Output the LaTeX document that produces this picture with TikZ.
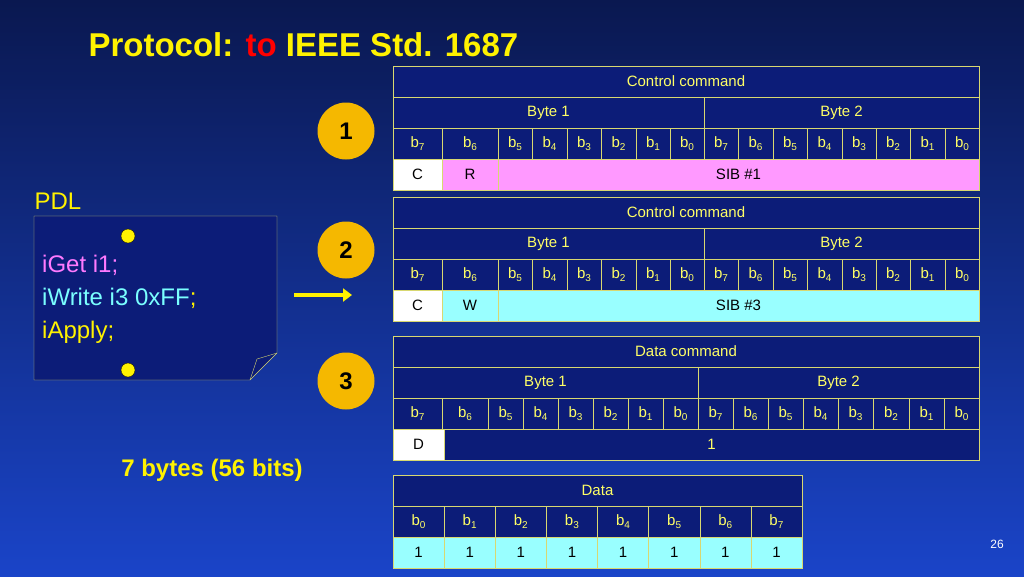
\documentclass[tikz,border=0pt]{standalone}
\usepackage{fontspec}
\setmainfont{Liberation Sans}
\usetikzlibrary{positioning,arrows.meta}
\definecolor{navy}{HTML}{0C1C78}
\definecolor{bgtop}{HTML}{0A1850}
\definecolor{bgbot}{HTML}{1A44C8}
\definecolor{gridline}{HTML}{D8D870}
\definecolor{txt}{HTML}{FFFF66}
\definecolor{pinkcell}{HTML}{FF99FF}
\definecolor{cyancell}{HTML}{99FFFF}
\definecolor{badge}{HTML}{F5B800}
\newcommand{\bit}[1]{b\raisebox{-0.35ex}{\fontsize{10}{10}\selectfont #1}}
% cell: x1, y1, x2, y2, fill, text colour, text
\newcommand{\cell}[7]{\draw[gridline,fill=#5] (#1,#2) rectangle (#3,#4);
  \node[text=#6,font=\fontsize{15}{15}\selectfont] at ({(#1+#3)/2},{(#2+#4)/2}) {#7};}
\begin{document}
\begin{tikzpicture}[x=1pt,y=-1pt,
  badgenode/.style={circle,fill=badge,minimum size=57pt,inner sep=0pt,font=\bfseries\fontsize{24}{24}\selectfont},
  dot/.style={circle,fill=yellow,draw=black,line width=0.3pt,minimum size=14pt,inner sep=0pt}]
\shade[top color=bgtop,bottom color=bgbot] (0,0) rectangle (1024,576);
\useasboundingbox (0,0) rectangle (1024,576);

\node[anchor=west,text=yellow,font=\bfseries\fontsize{33}{33}\selectfont] (title) at (85,45) {Protocol: \textcolor{red}{to} IEEE Std. 1687};

% table 1
\cell{393}{66}{979}{97}{navy}{txt}{Control command}
\cell{393}{97}{704}{128}{navy}{txt}{Byte 1}
\cell{704}{97}{979}{128}{navy}{txt}{Byte 2}
\foreach \xa/\xb/\k in {393/442/7,442/498/6,498/532/5,532/567/4,567/601/3,601/636/2,636/670/1,670/704/0,704/738/7,738/773/6,773/807/5,807/842/4,842/876/3,876/910/2,910/945/1,945/979/0}
  {\cell{\xa}{128}{\xb}{159}{navy}{txt}{\bit{\k}}}
\cell{393}{159}{442}{190}{white}{black}{C}
\cell{442}{159}{498}{190}{pinkcell}{black}{R}
\cell{498}{159}{979}{190}{pinkcell}{black}{SIB \#1}

% table 2
\cell{393}{197}{979}{228}{navy}{txt}{Control command}
\cell{393}{228}{704}{259}{navy}{txt}{Byte 1}
\cell{704}{228}{979}{259}{navy}{txt}{Byte 2}
\foreach \xa/\xb/\k in {393/442/7,442/498/6,498/532/5,532/567/4,567/601/3,601/636/2,636/670/1,670/704/0,704/738/7,738/773/6,773/807/5,807/842/4,842/876/3,876/910/2,910/945/1,945/979/0}
  {\cell{\xa}{259}{\xb}{290}{navy}{txt}{\bit{\k}}}
\cell{393}{290}{442}{321}{white}{black}{C}
\cell{442}{290}{498}{321}{cyancell}{black}{W}
\cell{498}{290}{979}{321}{cyancell}{black}{SIB \#3}

% table 3
\cell{393}{336}{979}{367}{navy}{txt}{Data command}
\cell{393}{367}{698}{398}{navy}{txt}{Byte 1}
\cell{698}{367}{979}{398}{navy}{txt}{Byte 2}
\foreach \xa/\xb/\k in {393/442/7,442/488/6,488/523/5,523/558/4,558/593/3,593/628/2,628/663/1,663/698/0,698/733/7,733/768/6,768/803/5,803/838/4,838/873/3,873/909/2,909/944/1,944/979/0}
  {\cell{\xa}{398}{\xb}{429}{navy}{txt}{\bit{\k}}}
\cell{393}{429}{444}{460}{white}{black}{D}
\cell{444}{429}{979}{460}{navy}{txt}{1}

% table 4
\cell{393}{475}{802}{506}{navy}{txt}{Data}
\foreach \i in {0,...,7}
  {\pgfmathsetmacro{\xa}{393+51.125*\i}\pgfmathsetmacro{\xb}{393+51.125*(\i+1)}
   \cell{\xa}{506}{\xb}{537}{navy}{txt}{\bit{\i}}
   \cell{\xa}{537}{\xb}{568}{cyancell}{black}{1}}

% badges
\node[badgenode] (one) at (346,131) {1};
\node[badgenode] (two) at (346,250) {2};
\node[badgenode] (three) at (346,381) {3};

% PDL note
\node[anchor=west,text=yellow,font=\fontsize{24}{24}\selectfont] (pdl) at (31,201) {PDL};
\draw[gridline,fill=navy] (34,216) -- (277,216) -- (277,353) -- (250,380) -- (34,380) -- cycle;
\draw[gridline] (277,353) -- (257,359) -- (250,380);
\node[dot] (pintop) at (128,236) {};
\node[dot] (pinbot) at (128,370) {};
\node[anchor=north west,align=left,font=\fontsize{24}{33}\selectfont,inner sep=0pt] (code) at (42,255)
  {\textcolor{pinkcell!80!magenta}{iGet i1;}\\ \textcolor{cyancell!80!cyan}{iWrite i3 0xFF}\textcolor{yellow}{;}\\ \textcolor{yellow}{iApply;}};
\coordinate (arrA) at (294,295);
\coordinate (arrB) at (352,295);
\draw[yellow,line width=4pt,-{Triangle[length=9pt,width=13pt]}] (arrA) -- (arrB);

\node[text=yellow,font=\bfseries\fontsize{24}{24}\selectfont] (total) at (212,470) {7 bytes (56 bits)};
\node[text=white,font=\fontsize{12}{12}\selectfont] (page) at (997,544) {26};
\end{tikzpicture}
\end{document}
